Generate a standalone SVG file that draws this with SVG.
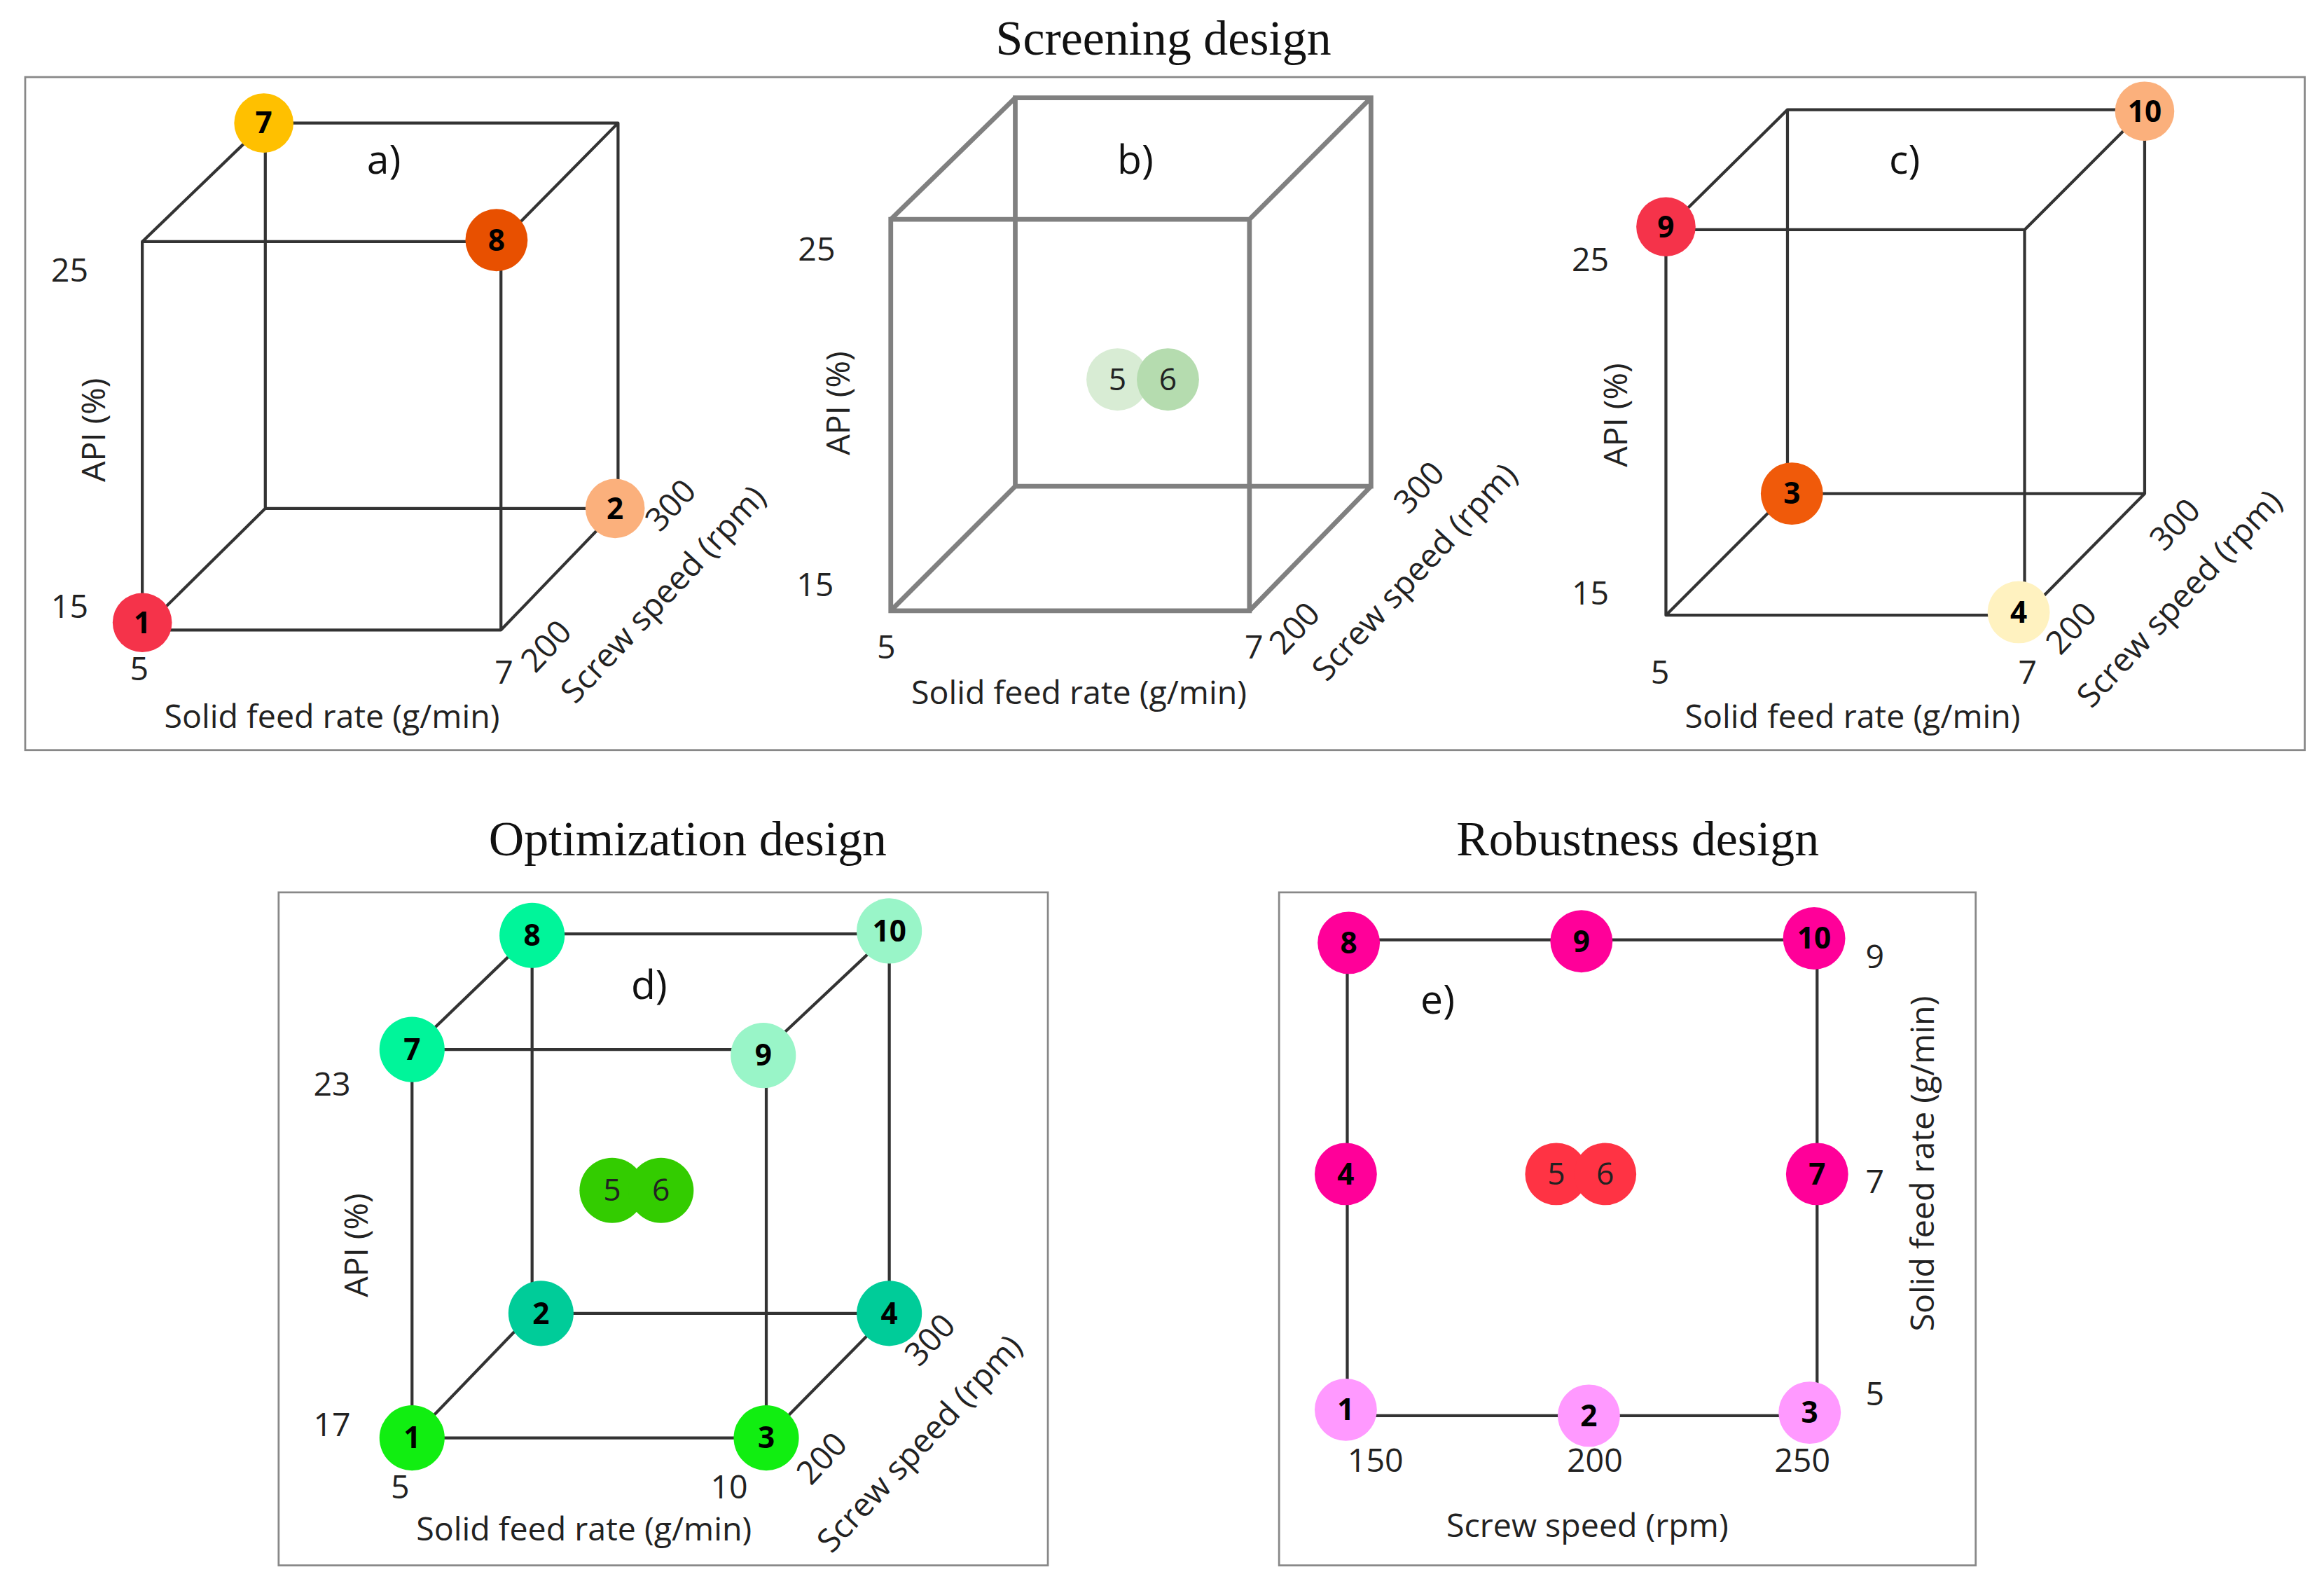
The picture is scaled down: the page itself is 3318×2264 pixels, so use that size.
<svg xmlns="http://www.w3.org/2000/svg" width="3318" height="2264" viewBox="0 0 3318 2264">
<style>
.t{font-family:"Liberation Serif",serif;font-size:33px;fill:#111;text-anchor:middle}
.l{font-family:"Open Sans","Liberation Sans",sans-serif;font-size:22px;fill:#222;text-anchor:middle}
.p{font-family:"Open Sans","Liberation Sans",sans-serif;font-size:27px;fill:#111;text-anchor:middle}
.n{font-family:"Open Sans","Liberation Sans",sans-serif;font-size:20px;font-weight:bold;fill:#000;text-anchor:middle}
.m{font-family:"Open Sans","Liberation Sans",sans-serif;font-size:21px;fill:#222;text-anchor:middle}
.box{fill:none;stroke:#888;stroke-width:1.3}
.e{fill:none;stroke:#333;stroke-width:2;stroke-linejoin:round}
.g{fill:none;stroke:#808080;stroke-width:3.2}
</style>
<rect width="3318" height="2264" fill="#fff"/>
<g transform="scale(2.11607)">
<text class="t" x="785" y="37">Screening design</text>
<text class="t" x="464" y="577">Optimization design</text>
<text class="t" x="1105" y="577">Robustness design</text>
<rect class="box" x="17" y="52" width="1538" height="454"/>
<rect class="box" x="188" y="602" width="519" height="454"/>
<rect class="box" x="863" y="602" width="470" height="454"/>
<g id="connectors">
<path class="e" d="M96,163H338V425H96Z M179,83H417V343H179Z M96,163L179,83 M338,163L417,83 M338,425L417,343 M96,425L179,343"/>
<path class="g" d="M601,148H843V412H601Z M685,66H925V328H685Z M601,148L685,66 M843,148L925,66 M843,412L925,328 M601,412L685,328"/>
<path class="e" d="M1124,155H1366V415H1124Z M1206,74H1447V333H1206Z M1124,155L1206,74 M1366,155L1447,74 M1366,415L1447,333 M1124,415L1206,333"/>
<path class="e" d="M278,708H517V970H278Z M359,630H600V886H359Z M278,708L359,630 M517,708L600,630 M517,970L600,886 M278,970L359,886"/>
<path class="e" d="M909,634H1226V955H909Z"/>
</g>
<g id="axes">
<text class="l" x="47" y="190">25</text><text class="l" x="47" y="417">15</text>
<text class="l" x="94" y="459">5</text><text class="l" x="340" y="461">7</text>
<text class="l" transform="translate(374,441) rotate(-47)">200</text>
<text class="l" transform="translate(458,346) rotate(-47)">300</text>
<text class="l" x="224" y="491">Solid feed rate (g/min)</text>
<text class="l" transform="translate(71,290) rotate(-90)">API (%)</text>
<text class="l" transform="translate(453,406) rotate(-47)">Screw speed (rpm)</text>
<text class="p" x="259" y="117">a)</text>

<text class="l" x="551" y="176">25</text><text class="l" x="550" y="402">15</text>
<text class="l" x="598" y="444">5</text><text class="l" x="846" y="444">7</text>
<text class="l" transform="translate(879,429) rotate(-47)">200</text>
<text class="l" transform="translate(963,334) rotate(-47)">300</text>
<text class="l" x="728" y="475">Solid feed rate (g/min)</text>
<text class="l" transform="translate(573,272) rotate(-90)">API (%)</text>
<text class="l" transform="translate(960,391) rotate(-47)">Screw speed (rpm)</text>
<text class="p" x="766" y="117">b)</text>

<text class="l" x="1073" y="183">25</text><text class="l" x="1073" y="408">15</text>
<text class="l" x="1120" y="461">5</text><text class="l" x="1368" y="461">7</text>
<text class="l" transform="translate(1403,429) rotate(-47)">200</text>
<text class="l" transform="translate(1473,359) rotate(-47)">300</text>
<text class="l" x="1250" y="491">Solid feed rate (g/min)</text>
<text class="l" transform="translate(1098,280) rotate(-90)">API (%)</text>
<text class="l" transform="translate(1476,409) rotate(-47)">Screw speed (rpm)</text>
<text class="p" x="1285" y="117">c)</text>

<text class="l" x="224" y="739">23</text><text class="l" x="224" y="969">17</text>
<text class="l" x="270" y="1011">5</text><text class="l" x="492" y="1011">10</text>
<text class="l" transform="translate(560,989) rotate(-47)">200</text>
<text class="l" transform="translate(633,909) rotate(-47)">300</text>
<text class="l" x="394" y="1039">Solid feed rate (g/min)</text>
<text class="l" transform="translate(248,840) rotate(-90)">API (%)</text>
<text class="l" transform="translate(626,979) rotate(-47)">Screw speed (rpm)</text>
<text class="p" x="438" y="674">d)</text>

<text class="l" x="1265" y="653">9</text><text class="l" x="1265" y="805">7</text><text class="l" x="1265" y="948">5</text>
<text class="l" x="928" y="993">150</text><text class="l" x="1076" y="993">200</text><text class="l" x="1216" y="993">250</text>
<text class="l" x="1071" y="1037">Screw speed (rpm)</text>
<text class="l" transform="translate(1305,785) rotate(-90)">Solid feed rate (g/min)</text>
<text class="p" x="970" y="684">e)</text>
</g>
<g id="a1"><circle cx="96" cy="420" r="20" fill="#f5334a"/><text class="n" x="96" y="427">1</text></g>
<g id="a7"><circle cx="178" cy="83" r="20" fill="#ffc000"/><text class="n" x="178" y="90">7</text></g>
<g id="a8"><circle cx="335" cy="162" r="21" fill="#e85000"/><text class="n" x="335" y="169">8</text></g>
<g id="a2"><circle cx="415" cy="343" r="20" fill="#fbb07c"/><text class="n" x="415" y="350">2</text></g>
<g id="b5"><circle cx="754" cy="256" r="21" fill="#d8ecd4"/><text class="m" x="754" y="263" fill="#777">5</text></g>
<g id="b6"><circle cx="788" cy="256" r="21" fill="#b5dcaf"/><text class="m" x="788" y="263" fill="#777">6</text></g>
<g id="c9"><circle cx="1124" cy="153" r="20" fill="#f5334a"/><text class="n" x="1124" y="160">9</text></g>
<g id="c10"><circle cx="1447" cy="75" r="20" fill="#fbb07c"/><text class="n" x="1447" y="82">10</text></g>
<g id="c3"><circle cx="1209" cy="333" r="21" fill="#f05a0a"/><text class="n" x="1209" y="340">3</text></g>
<g id="c4"><circle cx="1362" cy="413" r="21" fill="#fff2c0"/><text class="n" x="1362" y="420">4</text></g>
<g id="d8"><circle cx="359" cy="631" r="22" fill="#00f59a"/><text class="n" x="359" y="638">8</text></g>
<g id="d10"><circle cx="600" cy="628" r="22" fill="#99f5c8"/><text class="n" x="600" y="635">10</text></g>
<g id="d7"><circle cx="278" cy="708" r="22" fill="#00f59a"/><text class="n" x="278" y="715">7</text></g>
<g id="d9"><circle cx="515" cy="712" r="22" fill="#99f5c8"/><text class="n" x="515" y="719">9</text></g>
<g id="d2"><circle cx="365" cy="886" r="22" fill="#00cc99"/><text class="n" x="365" y="893">2</text></g>
<g id="d4"><circle cx="600" cy="886" r="22" fill="#00cc99"/><text class="n" x="600" y="893">4</text></g>
<g id="d1"><circle cx="278" cy="970" r="22" fill="#11ee11"/><text class="n" x="278" y="977">1</text></g>
<g id="d3"><circle cx="517" cy="970" r="22" fill="#11ee11"/><text class="n" x="517" y="977">3</text></g>
<g id="d5"><circle cx="413" cy="803" r="22" fill="#33cc00"/><text class="m" x="413" y="810">5</text></g>
<g id="d6"><circle cx="446" cy="803" r="22" fill="#33cc00"/><text class="m" x="446" y="810">6</text></g>
<g id="e8"><circle cx="910" cy="636" r="21" fill="#ff0099"/><text class="n" x="910" y="643">8</text></g>
<g id="e9"><circle cx="1067" cy="635" r="21" fill="#ff0099"/><text class="n" x="1067" y="642">9</text></g>
<g id="e10"><circle cx="1224" cy="633" r="21" fill="#ff0099"/><text class="n" x="1224" y="640">10</text></g>
<g id="e4"><circle cx="908" cy="792" r="21" fill="#ff0099"/><text class="n" x="908" y="799">4</text></g>
<g id="e7"><circle cx="1226" cy="792" r="21" fill="#ff0099"/><text class="n" x="1226" y="799">7</text></g>
<g id="e1"><circle cx="908" cy="951" r="21" fill="#ff99ff"/><text class="n" x="908" y="958">1</text></g>
<g id="e2"><circle cx="1072" cy="955" r="21" fill="#ff99ff"/><text class="n" x="1072" y="962">2</text></g>
<g id="e3"><circle cx="1221" cy="953" r="21" fill="#ff99ff"/><text class="n" x="1221" y="960">3</text></g>
<g id="e5"><circle cx="1050" cy="792" r="21" fill="#ff3344"/><text class="m" x="1050" y="799">5</text></g>
<g id="e6"><circle cx="1083" cy="792" r="21" fill="#ff3344"/><text class="m" x="1083" y="799">6</text></g>
</g>
</svg>
